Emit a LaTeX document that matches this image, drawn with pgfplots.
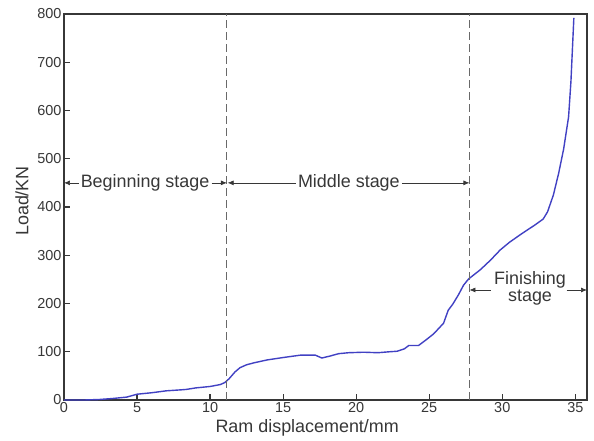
\documentclass[border=0pt]{standalone}
\usepackage{pgfplots}
\pgfplotsset{compat=1.18}
\usepackage{fontspec}
\setmainfont{Liberation Sans}
\usetikzlibrary{arrows.meta}
\definecolor{curve}{RGB}{65,65,195}
\definecolor{ax}{RGB}{55,55,55}
\begin{document}
\begin{tikzpicture}
\begin{axis}[
  scale only axis,
  width=523bp, height=386bp,
  xmin=0, xmax=35.8, ymin=0, ymax=800,
  xtick={0,5,...,35}, ytick={0,100,...,800},
  xtick pos=bottom, ytick pos=left,
  tick align=inside,
  major tick length=6bp,
  axis line style={ax, line width=1.3bp},
  every tick/.style={ax, line width=1.2bp},
  tick label style={font=\fontsize{14.5}{16}\selectfont, text=ax},
  xticklabel style={yshift=1bp},
  yticklabel style={xshift=1bp},
  /pgf/number format/assume math mode=true,
  xlabel={Ram displacement/mm},
  ylabel={Load/KN},
  label style={font=\fontsize{18}{20}\selectfont, text=ax},
  xlabel style={at={(axis description cs:0.465,0)}, anchor=base, yshift=-33bp},
  ylabel style={at={(axis description cs:0,0.5)}, anchor=center, rotate=0, yshift=42bp, xshift=6bp},
  clip=false,
]
\addplot[curve, line width=1.4bp] coordinates {
(0,0) (1.4,0) (2.4,1) (3.3,3) (4.3,6) (5,12) (6,15) (7,19) (8,21) (8.4,22) (9,25) (10,28) (10.7,32) (11.0,36) (11.3,44) (11.7,58) (12.05,67) (12.5,73) (13,77) (13.9,83) (15,88) (16.2,93) (17.2,93) (17.65,87) (18.2,91) (18.8,96) (19.5,98) (20.5,99) (21.5,98) (22.3,100) (22.8,101) (23.3,106) (23.6,113) (24.27,113) (24.8,125) (25.3,137) (25.98,159) (26.3,186) (26.6,198) (27.0,218) (27.35,238) (27.7,251) (28.5,270) (29.2,290) (29.86,311) (30.5,327) (31.3,344) (32.2,362) (32.8,375) (33.1,390) (33.5,425) (33.86,470) (34.2,520) (34.54,587) (34.7,660) (34.9,792)
};
\draw[ax!75, dash pattern=on 8bp off 4bp, line width=1bp] (axis cs:11.15,0) -- (axis cs:11.15,800);
\draw[ax!75, dash pattern=on 8bp off 4bp, line width=1bp] (axis cs:27.75,0) -- (axis cs:27.75,800);
\tikzset{lab/.style={font=\fontsize{18}{17}\selectfont, text=ax, inner sep=2bp},
 arr/.style={ax, line width=0.7bp, -{Latex[length=6bp,width=5bp]}}}
\node[lab] (b) at (axis cs:5.55,450) {Beginning stage};
\draw[arr] (b.west) -- (axis cs:0,450);
\draw[arr] (b.east) -- (axis cs:11.15,450);
\node[lab] (m) at (axis cs:19.5,450) {Middle stage};
\draw[arr] (m.west) -- (axis cs:11.2,450);
\draw[arr] (m.east) -- (axis cs:27.75,450);
\node[lab, align=center] (f) at (axis cs:31.9,232) {Finishing\\stage};
\draw[arr] (axis cs:29.2,228) -- (axis cs:27.75,228);
\draw[arr] (axis cs:34.4,228) -- (axis cs:35.8,228);
\end{axis}
\path[use as bounding box] ([xshift=-64bp,yshift=-40bp]current axis.south west) rectangle ([xshift=7bp,yshift=14bp]current axis.north east);
\end{tikzpicture}
\end{document}
